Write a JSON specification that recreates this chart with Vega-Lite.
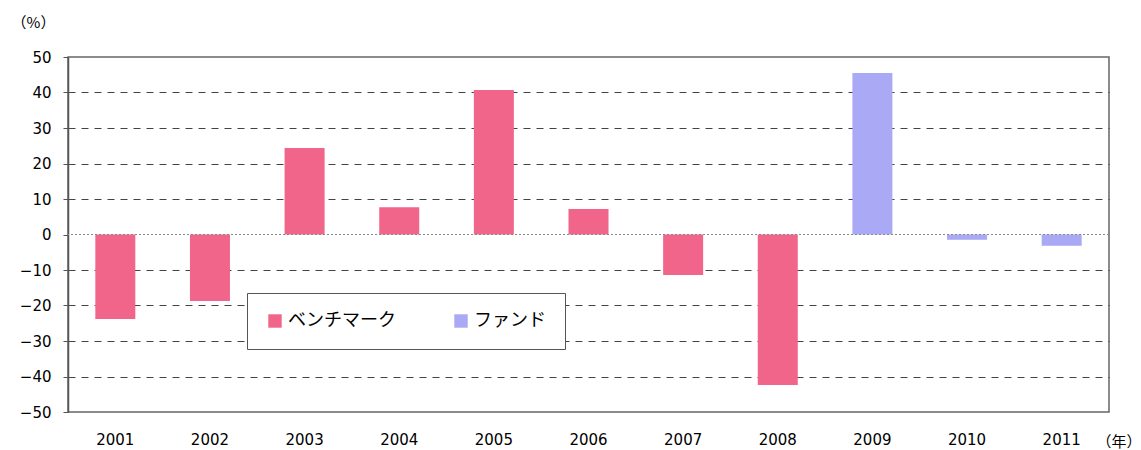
{
  "$schema": "https://vega.github.io/schema/vega-lite/v6.json",
  "autosize": {"type": "none"},
  "padding": {"left": 68, "top": 57, "right": 32, "bottom": 38},
  "width": 1041,
  "height": 355,
  "config": {
    "font": "DejaVu Sans",
    "view": {"stroke": "#666", "strokeWidth": 1.5},
    "axisY": {"labelOverlap": false}
  },
  "data": {
    "values": [
      {"year": "2001", "value": -23.8, "series": "ベンチマーク"},
      {"year": "2002", "value": -18.7, "series": "ベンチマーク"},
      {"year": "2003", "value": 24.4, "series": "ベンチマーク"},
      {"year": "2004", "value": 7.7, "series": "ベンチマーク"},
      {"year": "2005", "value": 40.7, "series": "ベンチマーク"},
      {"year": "2006", "value": 7.2, "series": "ベンチマーク"},
      {"year": "2007", "value": -11.4, "series": "ベンチマーク"},
      {"year": "2008", "value": -42.4, "series": "ベンチマーク"},
      {"year": "2009", "value": 45.5, "series": "ファンド"},
      {"year": "2010", "value": -1.5, "series": "ファンド"},
      {"year": "2011", "value": -3.2, "series": "ファンド"}
    ]
  },
  "layer": [
    {
      "mark": {"type": "bar", "width": 40},
      "encoding": {
        "x": {
          "field": "year", "type": "nominal", "sort": null,
          "scale": {"paddingInner": 0, "paddingOuter": 0},
          "axis": {
            "title": "（年）", "titleAngle": 0, "titleX": 1073, "titleY": 29, "titleAlign": "right", "titleBaseline": "middle",
            "titleFont": "Noto Sans CJK JP", "titleFontSize": 15, "titleFontWeight": "normal", "titleColor": "#000",
            "labelAngle": 0, "labelFontSize": 15, "labelColor": "#000", "labelPadding": 20,
            "domain": false, "ticks": false
          }
        },
        "y": {
          "field": "value", "type": "quantitative",
          "scale": {"domain": [-50, 50], "nice": false, "zero": false},
          "axis": {
            "values": [-50, -40, -30, -20, -10, 0, 10, 20, 30, 40, 50],
            "labelOverlap": false,
            "title": "（%）", "titleAngle": 0, "titleX": -35, "titleY": -35, "titleAlign": "center", "titleBaseline": "middle",
            "titleFont": "Noto Sans CJK JP", "titleFontSize": 15, "titleFontWeight": "normal", "titleColor": "#000",
            "labelFontSize": 15, "labelColor": "#000", "labelPadding": 12,
            "grid": true, "gridDash": [7, 6], "gridWidth": 1.2,
            "gridColor": {"condition": {"test": "datum.value === 0 || datum.value === -50 || datum.value === 50", "value": "transparent"}, "value": "#444"},
            "domainColor": "#555", "domainWidth": 1.5, "tickColor": "#555", "tickSize": 5
          }
        },
        "color": {
          "field": "series", "type": "nominal",
          "scale": {"domain": ["ベンチマーク", "ファンド"], "range": ["#F2658A", "#A9A9F5"]},
          "legend": {
            "title": null, "orient": "none", "legendX": 179, "legendY": 236,
            "direction": "horizontal", "symbolType": "square", "symbolSize": 180,
            "labelFont": "Noto Sans CJK JP", "labelFontSize": 18, "labelColor": "#000", "padding": 19, "columnPadding": 56,
            "strokeColor": "#555", "fillColor": "#fff", "symbolStrokeWidth": 0
          }
        }
      }
    },
    {
      "mark": {"type": "rule", "color": "#888", "strokeDash": [2, 2], "strokeWidth": 1.2},
      "encoding": {
        "y": {
          "datum": 0, "type": "quantitative",
          "scale": {"domain": [-50, 50], "nice": false, "zero": false},
          "axis": {
            "values": [-50, -40, -30, -20, -10, 0, 10, 20, 30, 40, 50],
            "labelOverlap": false,
            "title": "（%）", "titleAngle": 0, "titleX": -35, "titleY": -35, "titleAlign": "center", "titleBaseline": "middle",
            "titleFont": "Noto Sans CJK JP", "titleFontSize": 15, "titleFontWeight": "normal", "titleColor": "#000",
            "labelFontSize": 15, "labelColor": "#000", "labelPadding": 12,
            "grid": true, "gridDash": [7, 6], "gridWidth": 1.2,
            "gridColor": {"condition": {"test": "datum.value === 0 || datum.value === -50 || datum.value === 50", "value": "transparent"}, "value": "#444"},
            "domainColor": "#555", "domainWidth": 1.5, "tickColor": "#555", "tickSize": 5
          }
        }
      }
    }
  ]
}
